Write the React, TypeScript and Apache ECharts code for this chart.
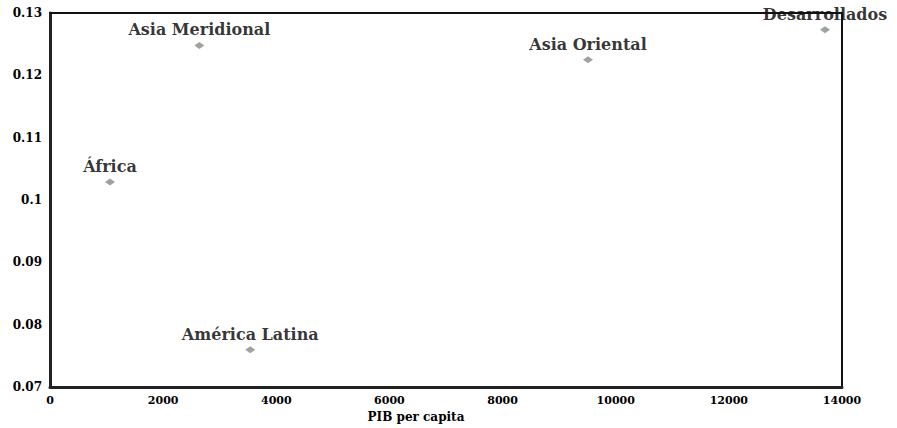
import React, { useEffect, useRef } from "react";
import * as echarts from "echarts";

const regions = ["África", "Asia Meridional", "América Latina", "Asia Oriental", "Desarrollados"];
const pibPerCapita = [1060, 2640, 3540, 9510, 13700];
const values = [0.1029, 0.1248, 0.0760, 0.1225, 0.1273];

const SERIF = "'DejaVu Serif', 'Liberation Serif', serif";

export default function App() {
  const ref = useRef<HTMLDivElement>(null);
  useEffect(() => {
    document.body.style.margin = "0";
    const chart = echarts.init(ref.current!, null, { renderer: "svg" });
    const fmt = (v: number) => String(parseFloat(v.toFixed(2)));
    chart.setOption({
      animation: false,
      backgroundColor: "#ffffff",
      grid: { left: 50, right: 55, top: 13, bottom: 36, containLabel: false },
      xAxis: [
        {
          type: "value",
          min: 0,
          max: 14000,
          interval: 2000,
          name: "PIB per capita",
          nameLocation: "middle",
          nameGap: 22,
          nameTextStyle: { fontFamily: SERIF, fontWeight: "bold", fontSize: 12, color: "#000", padding: [0, 60, 0, 0] },
          axisLine: { show: true, lineStyle: { color: "#222", width: 3 } },
          axisTick: { show: false },
          splitLine: { show: false },
          axisLabel: { fontFamily: SERIF, fontWeight: "bold", fontSize: 11, color: "#000", margin: 8, formatter: (v: number) => String(v) },
          z: 10,
        },
        {
          type: "value",
          position: "top",
          min: 0,
          max: 14000,
          axisLine: { show: true, onZero: false, lineStyle: { color: "#111", width: 2 } },
          axisTick: { show: false },
          axisLabel: { show: false },
          splitLine: { show: false },
          z: 10,
        },
      ],
      yAxis: [
        {
          type: "value",
          min: 0.07,
          max: 0.13,
          interval: 0.01,
          axisLine: { show: true, lineStyle: { color: "#222", width: 3 } },
          axisTick: { show: false },
          splitLine: { show: false },
          axisLabel: { fontFamily: SERIF, fontWeight: "bold", fontSize: 12, color: "#000", margin: 8, formatter: fmt },
          z: 10,
        },
        {
          type: "value",
          position: "right",
          min: 0.07,
          max: 0.13,
          axisLine: { show: true, onZero: false, lineStyle: { color: "#111", width: 2 } },
          axisTick: { show: false },
          axisLabel: { show: false },
          splitLine: { show: false },
          z: 10,
        },
      ],
      series: [
        {
          type: "scatter",
          xAxisIndex: 0,
          yAxisIndex: 0,
          symbol: "diamond",
          symbolSize: [10, 7],
          itemStyle: { color: "#8a8a8a" },
          label: {
            show: true,
            position: "top",
            distance: 4,
            formatter: "{b}",
            fontFamily: SERIF,
            fontWeight: "bold",
            fontSize: 16,
            color: "#000",
          },
          data: regions.map((r, i) => ({ name: r, value: [pibPerCapita[i], values[i]] })),
        },
      ],
    });
    return () => chart.dispose();
  }, []);
  return <div ref={ref} style={{ position: "absolute", left: 0, top: 0, width: 897, height: 428 }} />;
}
